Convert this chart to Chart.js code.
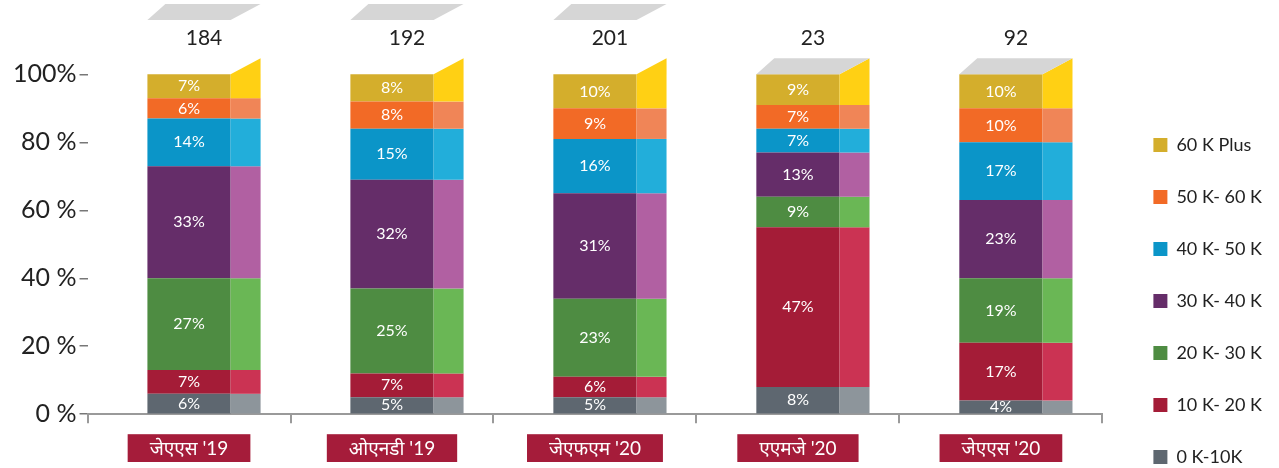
<!DOCTYPE html>
<html>
<head>
<meta charset="utf-8">
<script src="https://cdn.jsdelivr.net/npm/chart.js@4/dist/chart.umd.min.js"></script>
<style>
  html, body { margin: 0; padding: 0; background: #fff; }
  #caixa { width: 1279px; height: 468px; }
</style>
</head>
<body>
<div id="caixa"><canvas id="graficoRenda"></canvas></div>
<script>
// trimestres e total de respostas em cada um
const categorias = ["जेएएस '19", "ओएनडी '19", "जेएफएम '20", "एएमजे '20", "जेएएस '20"];
const totais = [184, 192, 201, 23, 92];

// % por faixa de renda (de baixo pra cima)
const faixa0a10 = [6, 5, 5, 8, 4];
const faixa10a20 = [7, 7, 6, 47, 17];
const faixa20a30 = [27, 25, 23, 9, 19];
const faixa30a40 = [33, 32, 31, 13, 23];
const faixa40a50 = [14, 15, 16, 7, 17];
const faixa50a60 = [6, 8, 9, 7, 10];
const faixa60mais = [7, 8, 10, 9, 10];

const nomesFaixas = ['0 K-10K', '10 K- 20 K', '20 K- 30 K', '30 K- 40 K', '40 K- 50 K', '50 K- 60 K', '60 K Plus'];
const ticksY = [0, 20, 40, 60, 80, 100];

const fonte = "Lato, 'Noto Sans Devanagari', 'Lohit Devanagari', 'Noto Sans', sans-serif";

// frente / lateral de cada faixa
const coresFrente = ['#5E6770', '#A41C37', '#4E8C42', '#652D69', '#0B95C8', '#F26A26', '#D4AE2C'];
const coresLado = ['#8D959B', '#CB3353', '#6AB755', '#B160A2', '#22AEDA', '#F08557', '#FFD014'];

// nos 3 primeiros a tampa cinza ficou solta lá em cima
const tampaNoTopo = [false, false, false, true, true];

const series = [faixa0a10, faixa10a20, faixa20a30, faixa30a40, faixa40a50, faixa50a60, faixa60mais];

// desenha a lateral, a tampa e os textos pra dar o efeito 3D
const efeito3D = {
    id: 'efeito3D',
    afterLayout(chart) {
        const lg = chart.legend;
        lg.left = chart.chartArea.right + 17;
        lg.right = chart.width;
        lg.top += 82;
        lg.bottom += 82;
    },
    afterDatasetsDraw(chart) {
        const ctx = chart.ctx;
        const n = chart.data.datasets.length;
        const topoArea = chart.chartArea.top;
        ctx.save();
        chart.data.datasets.forEach((ds, d) => {
            chart.getDatasetMeta(d).data.forEach((bar, i) => {
                const dir = bar.x + bar.width / 2;
                const topo = Math.min(bar.y, bar.base);
                const base = Math.max(bar.y, bar.base);
                const lado = bar.width * 0.36;
                ctx.fillStyle = coresLado[d];
                ctx.beginPath();
                if (d === n - 1) {
                    ctx.moveTo(dir, topo);
                    ctx.lineTo(dir + lado, topo - 16);
                    ctx.lineTo(dir + lado, base);
                    ctx.lineTo(dir, base);
                    ctx.closePath();
                } else {
                    ctx.rect(dir, topo, lado, base - topo);
                }
                ctx.fill();

                ctx.fillStyle = '#fff';
                ctx.font = '16px ' + fonte;
                ctx.textAlign = 'center';
                ctx.textBaseline = 'middle';
                ctx.fillText(ds.data[i] + '%', bar.x, (topo + base) / 2);
            });
        });

        const ultimo = chart.getDatasetMeta(n - 1).data;
        ultimo.forEach((bar, i) => {
            const esq = bar.x - bar.width / 2;
            const dir = bar.x + bar.width / 2;
            const lado = bar.width * 0.36;
            const y0 = tampaNoTopo[i] ? Math.min(bar.y, bar.base) : topoArea;
            ctx.fillStyle = '#D6D6D6';
            ctx.beginPath();
            ctx.moveTo(esq, y0);
            ctx.lineTo(dir, y0);
            ctx.lineTo(dir + lado, y0 - 16);
            ctx.lineTo(esq + lado * 0.6, y0 - 16);
            ctx.closePath();
            ctx.fill();

            ctx.fillStyle = '#222';
            ctx.font = '21px ' + fonte;
            ctx.textAlign = 'center';
            ctx.textBaseline = 'middle';
            ctx.fillText(String(totais[i]), bar.x + lado / 2, topoArea + 18);
        });
        ctx.restore();
    }
};

const ctx = document.getElementById('graficoRenda').getContext('2d');
const graficoRenda = new Chart(ctx, {
    type: 'bar',
    data: {
        labels: categorias,
        datasets: series.map((valores, d) => ({
            label: nomesFaixas[d],
            data: valores,
            backgroundColor: coresFrente[d],
            borderWidth: 0,
            barPercentage: 0.41,
            categoryPercentage: 1
        }))
    },
    options: {
        responsive: true,
        maintainAspectRatio: false,
        animation: false,
        layout: { padding: { top: 20, left: 10, right: 24, bottom: -6 } },
        plugins: {
            legend: {
                position: 'right',
                align: 'start',
                reverse: true,
                labels: {
                    boxWidth: 14,
                    boxHeight: 14,
                    padding: 34,
                    color: '#222',
                    font: { family: fonte, size: 18 }
                }
            },
            tooltip: { enabled: false }
        },
        scales: {
            x: {
                stacked: true,
                grid: { offset: true, drawOnChartArea: false, tickLength: 9, color: '#9a9a9a', lineWidth: 2 },
                border: { color: '#9a9a9a', width: 2 },
                ticks: {
                    color: '#fff',
                    font: { family: fonte, size: 19 },
                    padding: 14,
                    maxRotation: 0,
                    autoSkip: false,
                    showLabelBackdrop: true,
                    backdropColor: '#A51C3A',
                    backdropPadding: { top: 3, bottom: 2, left: 22, right: 22 }
                }
            },
            y: {
                stacked: true,
                min: 0,
                max: 116,
                afterBuildTicks: s => { s.ticks = ticksY.map(v => ({ value: v })); },
                grid: { drawOnChartArea: false, tickLength: 8, color: '#777', lineWidth: 1.5 },
                border: { display: false },
                ticks: {
                    color: '#222',
                    padding: 3,
                    font: { family: fonte, size: 25 },
                    callback: v => v === 100 ? '100%' : v + ' %'
                }
            }
        }
    },
    plugins: [efeito3D]
});
</script>
</body>
</html>
